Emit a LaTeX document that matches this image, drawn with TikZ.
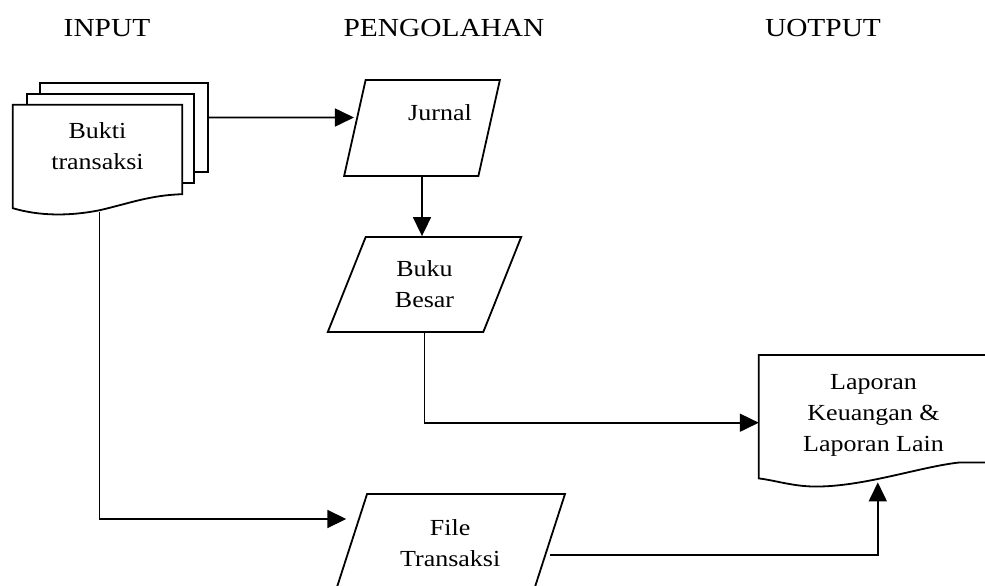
\documentclass[tikz,border=0pt]{standalone}
\usepackage{fontspec}
\setmainfont{Liberation Serif}[FakeStretch=1.13]
\usetikzlibrary{arrows.meta,positioning,shapes.geometric,calc,backgrounds}
\tikzset{
  procbox/.style={trapezium,trapezium left angle=68,trapezium right angle=112,
    trapezium stretches=true,draw=black,line width=1.8pt,align=center,
    inner sep=0pt,font=\fontsize{23}{31}\selectfont},
  docbox/.style={rectangle,inner sep=0pt,align=center,font=\fontsize{23}{31}\selectfont},
  pagebox/.style={rectangle,draw=black,fill=white,line width=1.8pt,inner sep=0pt},
  docline/.style={draw=black,line width=1.8pt,line join=miter},
  flowarrow/.style={-{Triangle[length=19pt,width=18pt]},line width=1.8pt},
  headtext/.style={anchor=base,font=\fontsize{26}{31}\selectfont}
}

\begin{document}
\begin{tikzpicture}[x=1pt,y=-1pt]
\useasboundingbox (0,0) rectangle (985,586);

% column titles
\node[headtext] (hinput) at (107,37) {INPUT};
\node[headtext] (hproc) at (444,37) {PENGOLAHAN};
\node[headtext] (hout) at (823,37) {UOTPUT};

% input documents (stack of three)
\node[docbox, minimum width=169, minimum height=82] (bukti) at (97.5,146) {Bukti\\transaksi};
\begin{scope}[on background layer]
\node[pagebox, minimum width=168, minimum height=89] (bukti3) at (124,127.5) {};
\node[pagebox, minimum width=167, minimum height=89] (bukti2) at (110.5,138.5) {};
\draw[docline, fill=white] ($(bukti.south west)+(0,21)$) -- (bukti.north west) -- (bukti.north east)
  -- ($(bukti.south east)+(0,7)$) .. controls +(-32,1) and +(30,-7) .. ($(bukti.south west)+(87,23)$)
  .. controls +(-30,6) and +(27,8) .. ($(bukti.south west)+(0,21)$) -- cycle;
\end{scope}

% processing
\node[procbox, minimum width=156, minimum height=96] (jurnal) at (422,128) {\hspace*{36pt}Jurnal\\\mbox{}};
\node[procbox, minimum width=195, minimum height=95] (buku) at (424.5,284.5) {Buku\\Besar};
\node[procbox, minimum width=229.6, minimum height=98] (file) at (450.2,543) {File\\Transaksi};

% output report
\node[docbox, minimum width=229, minimum height=121] (laporan) at (873.5,415.7) {Laporan\\Keuangan \&\\Laporan Lain};
\draw[docline] ($(laporan.south west)+(0,2)$) -- (laporan.north west) -- (laporan.north east)
  -- ($(laporan.south east)+(0,-14)$) -- ++(-28,0) .. controls +(-40,4) and +(50,2) .. ($(laporan.south west)+(51,10)$)
  .. controls +(-20,-1) and +(16,2) .. ($(laporan.south west)+(0,2)$) -- cycle;

% connectors
\draw[flowarrow] ($(bukti3.east)+(0,-10)$) -- ($(jurnal.west)+(0,-10.5)$);
\draw[flowarrow] (jurnal.center |- jurnal.south) -- (jurnal.center |- buku.north);
\draw[flowarrow] (buku.center |- buku.south) |- ($(laporan.west)+(0,7)$);
\draw[flowarrow] ($(bukti.south)+(2,25)$) |- ($(file.west)+(-4,-24)$);
\draw[flowarrow] ($(file.east)+(0,12)$) -| ($(laporan.south west)+(119,6)$);
\end{tikzpicture}
\end{document}
